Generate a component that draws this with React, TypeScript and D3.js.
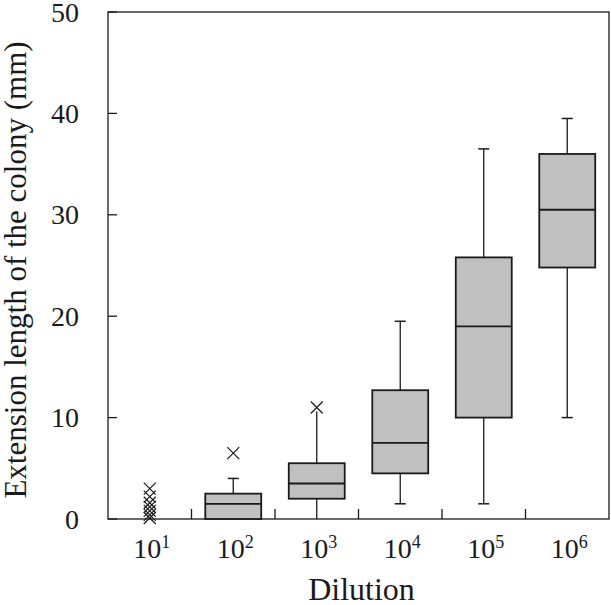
import * as d3 from 'd3';

// dilution exponents (10^n)
const exponents = ['1', '2', '3', '4', '5', '6'];

// box statistics, mm (null = no box drawn)
const whiskerLow: (number | null)[] = [null, 0, 0, 1.5, 1.5, 10];
const q1: (number | null)[] = [null, 0, 2, 4.5, 10, 24.8];
const medians: (number | null)[] = [null, 1.5, 3.5, 7.5, 19, 30.5];
const q3: (number | null)[] = [null, 2.5, 5.5, 12.7, 25.8, 36];
const whiskerHigh: (number | null)[] = [null, 4, 10.6, 19.5, 36.5, 39.5];
const outliers: number[][] = [[3, 2.2, 1.6, 1.2, 0.8, 0.4, 0.1], [6.5], [11], [], [], []];

const yTicks = [0, 10, 20, 30, 40, 50];

const W = 611;
const H = 605;
const left = 108;
const right = 609;
const top = 12;
const bottom = 519;

const font = '"Liberation Serif", "Times New Roman", serif';
const ink = '#1a1a1a';

export default function App() {
    const x = d3.scaleBand<string>().domain(exponents).range([left, right]).padding(0);
    const y = d3.scaleLinear().domain([0, 50]).range([bottom, top]);
    const bw = x.bandwidth() * 0.67;
    const capW = 11;
    const xs = 6;

    return (
        <svg width={W} height={H} style={{ position: 'absolute', left: 0, top: 0, background: '#fff' }}>
            {/* frame */}
            <rect x={left} y={top} width={right - left} height={bottom - top} fill="none" stroke={ink} strokeWidth={1.3} />

            {/* y ticks and labels */}
            {yTicks.map(t => (
                <g key={'y' + t}>
                    <line x1={left} x2={left + 9} y1={y(t)} y2={y(t)} stroke={ink} strokeWidth={1.3} />
                    <text x={79} y={y(t)} dy="0.34em" textAnchor="end" fontFamily={font} fontSize={28} fill={ink}>{t}</text>
                </g>
            ))}

            {/* category separator ticks */}
            {exponents.slice(1).map(e => (
                <line key={'sep' + e} x1={x(e)!} x2={x(e)!} y1={bottom} y2={bottom - 10} stroke={ink} strokeWidth={1.3} />
            ))}

            {/* boxes */}
            {exponents.map((e, i) => {
                const cx = x(e)! + x.bandwidth() / 2;
                const lo = whiskerLow[i], hi = whiskerHigh[i];
                const a = q1[i], m = medians[i], b = q3[i];
                // cap is hidden when an outlier sits right on top of the whisker
                const hideCap = hi != null && outliers[i].some(o => o > hi && o - hi < 1);
                return (
                    <g key={'box' + e}>
                        {lo != null && a != null && (
                            <line x1={cx} x2={cx} y1={y(lo)} y2={y(a)} stroke={ink} strokeWidth={1.3} />
                        )}
                        {hi != null && b != null && (
                            <line x1={cx} x2={cx} y1={y(hi)} y2={y(b)} stroke={ink} strokeWidth={1.3} />
                        )}
                        {lo != null && lo > 0 && (
                            <line x1={cx - capW / 2} x2={cx + capW / 2} y1={y(lo)} y2={y(lo)} stroke={ink} strokeWidth={1.5} />
                        )}
                        {hi != null && !hideCap && (
                            <line x1={cx - capW / 2} x2={cx + capW / 2} y1={y(hi)} y2={y(hi)} stroke={ink} strokeWidth={1.5} />
                        )}
                        {a != null && b != null && (
                            <rect x={cx - bw / 2} y={y(b)} width={bw} height={y(a) - y(b)} fill="#c0c0c0" stroke={ink} strokeWidth={1.8} />
                        )}
                        {m != null && (
                            <line x1={cx - bw / 2} x2={cx + bw / 2} y1={y(m)} y2={y(m)} stroke={ink} strokeWidth={1.8} />
                        )}
                        {outliers[i].map((o, k) => (
                            <path key={k}
                                d={`M${cx - xs},${y(o) - xs}L${cx + xs},${y(o) + xs}M${cx - xs},${y(o) + xs}L${cx + xs},${y(o) - xs}`}
                                stroke={ink} strokeWidth={1.2} fill="none" />
                        ))}
                    </g>
                );
            })}

            {/* x labels */}
            {exponents.map(e => (
                <text key={'xl' + e} x={x(e)! + x.bandwidth() / 2 + 2} y={558} textAnchor="middle" fontFamily={font} fontSize={28} fill={ink}>
                    10<tspan fontSize={18} dy={-10}>{e}</tspan>
                </text>
            ))}

            {/* axis titles */}
            <text x={(left + right) / 2 + 3} y={600} textAnchor="middle" fontFamily={font} fontSize={32} fill={ink}>Dilution</text>
            <text transform={`translate(26,270) rotate(-90)`} textAnchor="middle" fontFamily={font} fontSize={31} fill={ink}>
                Extension length of the colony (mm)
            </text>
        </svg>
    );
}
